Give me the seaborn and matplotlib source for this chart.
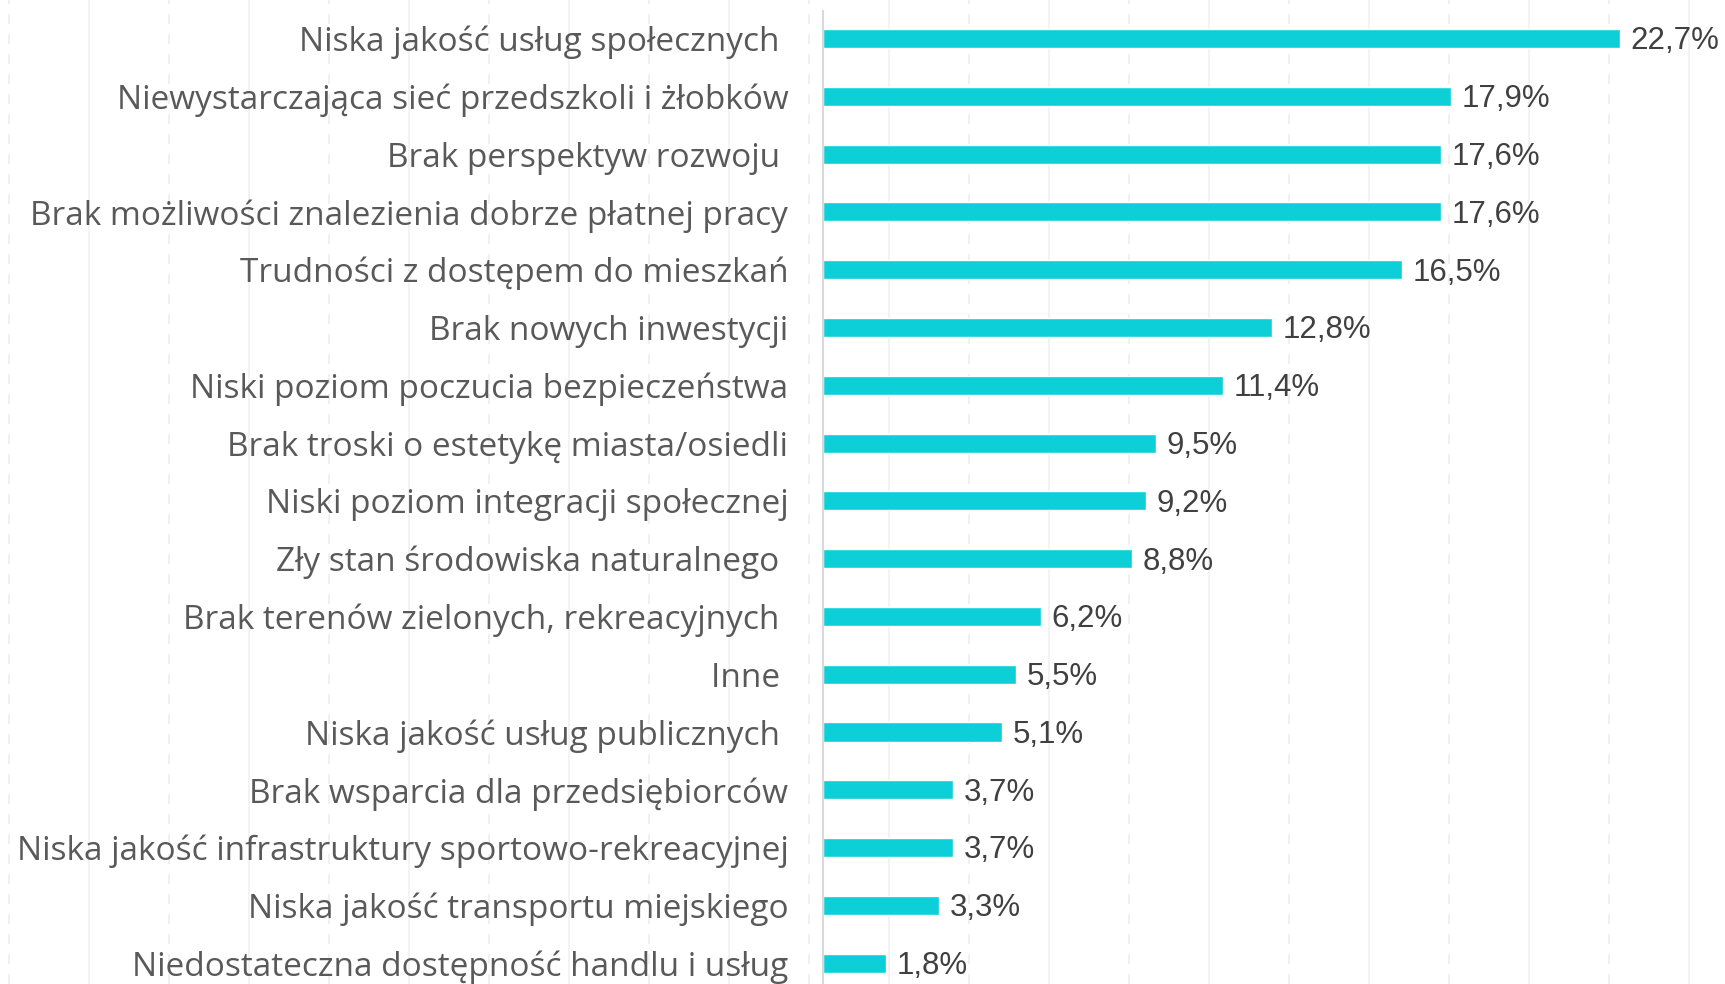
import matplotlib
matplotlib.use("Agg")
import matplotlib.pyplot as plt
import seaborn as sns
import pandas as pd
import numpy as np

categories = [
    "Niska jakość usług społecznych ",
    "Niewystarczająca sieć przedszkoli i żłobków",
    "Brak perspektyw rozwoju ",
    "Brak możliwości znalezienia dobrze płatnej pracy",
    "Trudności z dostępem do mieszkań",
    "Brak nowych inwestycji",
    "Niski poziom poczucia bezpieczeństwa",
    "Brak troski o estetykę miasta/osiedli",
    "Niski poziom integracji społecznej",
    "Zły stan środowiska naturalnego ",
    "Brak terenów zielonych, rekreacyjnych ",
    "Inne ",
    "Niska jakość usług publicznych ",
    "Brak wsparcia dla przedsiębiorców",
    "Niska jakość infrastruktury sportowo-rekreacyjnej",
    "Niska jakość transportu miejskiego",
    "Niedostateczna dostępność handlu i usług",
]
values = [22.7, 17.9, 17.6, 17.6, 16.5, 12.8, 11.4, 9.5, 9.2, 8.8, 6.2, 5.5, 5.1, 3.7, 3.7, 3.3, 1.8]
value_labels = [f"{v:.1f}%".replace(".", ",") for v in values]

df = pd.DataFrame({"kategoria": categories, "procent": values})

sns.set_style("white")
plt.rcParams["font.family"] = ["Open Sans", "DejaVu Sans"]

W, H = 1725, 984
fig = plt.figure(figsize=(W / 100, H / 100), dpi=100)

# faint vertical lines in the background
bg = fig.add_axes([0, 0, 1, 1], zorder=0)
bg.set_xlim(0, W)
bg.set_ylim(0, H)
for x in np.arange(9, W, 160):
    bg.axvline(x, color="#ededed", lw=1.2, ls=(0, (6, 6)))
for x in np.arange(89, W, 160):
    bg.axvline(x, color="#f1f1f1", lw=1.2)
bg.axis("off")

left = 823 / W
top = 1 - 11 / H
ax = fig.add_axes([left, 0, 1 - left, top], zorder=1)
ax.patch.set_alpha(0)

sns.barplot(data=df, x="procent", y="kategoria", orient="h", color="#0ccfd8",
            width=0.33, saturation=1, ax=ax)

ax.set_xlim(0, (W - 823) / 35.1)
ax.set_ylim(16.36, -0.476)

for i, (v, lab) in enumerate(zip(values, value_labels)):
    ax.text(v + 0.3, i + 0.05, lab, va="center", ha="left", fontsize=22.5,
            color="#404040", family="Liberation Sans")

ax.set_xlabel("")
ax.set_ylabel("")
ax.set_xticks([])
ax.tick_params(axis="y", length=0, pad=25)
for lab in ax.get_yticklabels():
    lab.set_fontsize(24)
    lab.set_color("#595959")
for s in ["top", "right", "bottom"]:
    ax.spines[s].set_visible(False)
ax.spines["left"].set_color("#d9d9d9")
ax.spines["left"].set_linewidth(1.5)

fig.savefig("out.png", dpi=100)
plt.close(fig)
